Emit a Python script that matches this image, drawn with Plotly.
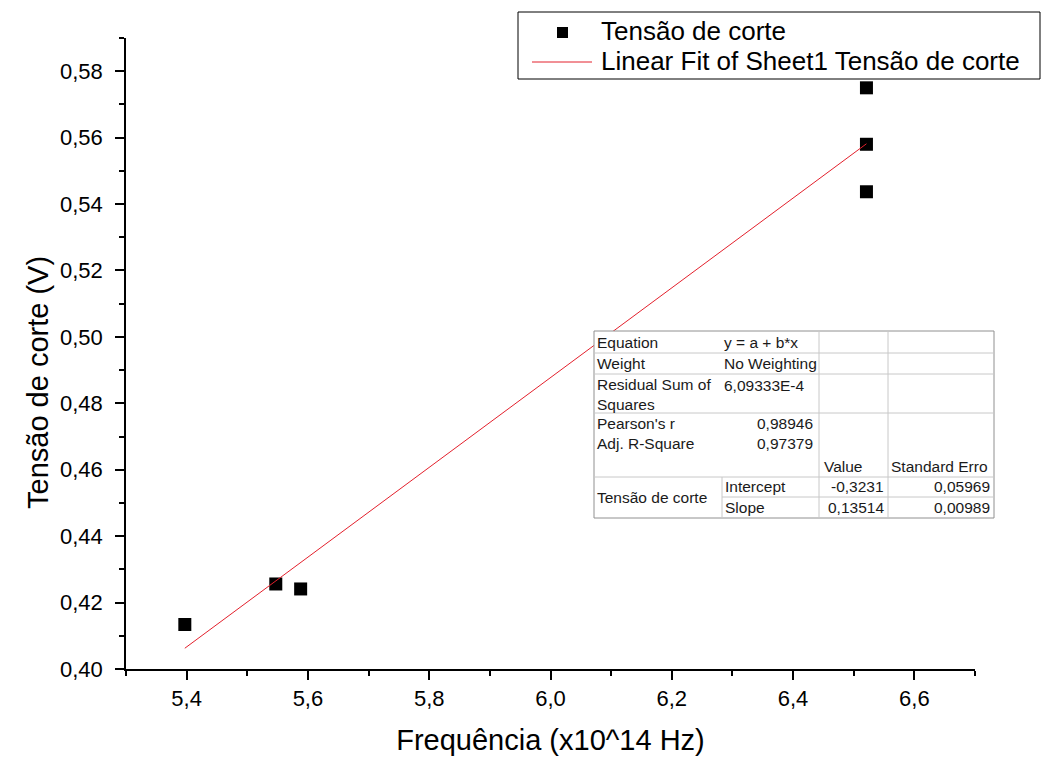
import plotly.graph_objects as go

# ---- data ----
freq = [5.397, 5.547, 5.588, 6.521, 6.521, 6.521]
tensao = [0.4134, 0.4256, 0.4241, 0.5750, 0.5580, 0.5437]
fit_intercept = -0.3231
fit_slope = 0.13514
x_ticks = [5.4, 5.6, 5.8, 6.0, 6.2, 6.4, 6.6]
y_ticks = [0.40, 0.42, 0.44, 0.46, 0.48, 0.50, 0.52, 0.54, 0.56, 0.58]

series_names = ["Tensão de corte", "Linear Fit of Sheet1 Tensão de corte"]
table_left_labels = ["Equation", "Weight", "Residual Sum of<br>Squares", "Pearson's r", "Adj. R-Square"]
table_left_values = ["y = a + b*x", "No Weighting", "6,09333E-4", "0,98946", "0,97379"]
param_names = ["Intercept", "Slope"]
param_values = ["-0,3231", "0,13514"]
param_errors = ["0,05969", "0,00989"]

# ---- layout geometry (pixels) ----
W, H = 1044, 764
L, R, T, B = 126, 975, 38, 669
FIT_COLOR = "#e3202c"


def px(x):
    return (x - L) / (R - L)


def py(y):
    return (B - y) / (B - T)


fig = go.Figure()

fig.add_trace(go.Scatter(
    x=freq, y=tensao, mode="markers", name=series_names[0],
    marker=dict(symbol="square", size=13, color="black", line=dict(width=0)),
))

x_fit = [min(freq), max(freq)]
y_fit = [fit_intercept + fit_slope * v for v in x_fit]
fig.add_trace(go.Scatter(
    x=x_fit, y=y_fit, mode="lines", name=series_names[1],
    line=dict(color=FIT_COLOR, width=1),
))

font_family = "Liberation Sans, Arial, sans-serif"

fig.update_layout(
    width=W, height=H,
    margin=dict(l=L, r=W - R, t=T, b=H - B, autoexpand=False),
    paper_bgcolor="white", plot_bgcolor="white",
    separators=", ",
    font=dict(family=font_family, color="black"),
    showlegend=False,
    xaxis=dict(
        range=[5.3, 6.7], tickvals=x_ticks, tickformat=".1f",
        showgrid=False, zeroline=False, showline=True, linecolor="black", linewidth=1.5,
        ticks="outside", ticklen=9, tickwidth=1.5, tickcolor="black",
        minor=dict(dtick=0.1, tick0=5.3, ticks="outside", ticklen=5, tickwidth=1.5, tickcolor="black", showgrid=False),
        tickfont=dict(size=22, family=font_family),
        title=dict(text="Frequência (x10^14 Hz)", font=dict(size=29, family=font_family), standoff=20),
    ),
    yaxis=dict(
        range=[0.40, 0.59], tickvals=y_ticks, tickformat=".2f",
        showgrid=False, zeroline=False, showline=True, linecolor="black", linewidth=1.5,
        ticks="outside", ticklen=9, tickwidth=1.5, tickcolor="black",
        minor=dict(dtick=0.01, tick0=0.40, ticks="outside", ticklen=5, tickwidth=1.5, tickcolor="black", showgrid=False),
        tickfont=dict(size=22, family=font_family),
        ticklabelstandoff=8,
    ),
)

# y-axis title (placed lower than axis centre, as in the reference)
fig.add_annotation(text="Tensão de corte (V)", xref="paper", yref="paper",
                   x=px(38), y=py(383), xanchor="center", yanchor="middle", textangle=-90,
                   showarrow=False, font=dict(size=29, family=font_family, color="black"))

shapes = []

# ---- legend box (drawn to match the compact Origin legend) ----
shapes.append(dict(type="rect", xref="paper", yref="paper", layer="above",
                   x0=px(518), x1=px(1040), y0=py(12), y1=py(79),
                   fillcolor="white", line=dict(color="black", width=1)))
shapes.append(dict(type="rect", xref="paper", yref="paper", layer="above",
                   x0=px(557), x1=px(568), y0=py(27), y1=py(38),
                   fillcolor="black", line=dict(width=0)))
shapes.append(dict(type="line", xref="paper", yref="paper", layer="above",
                   x0=px(532), x1=px(592), y0=py(62), y1=py(62),
                   line=dict(color=FIT_COLOR, width=1)))
for name, yy in zip(series_names, [31, 61]):
    fig.add_annotation(text=name, xref="paper", yref="paper", x=px(599), y=py(yy),
                       xanchor="left", yanchor="middle", showarrow=False,
                       font=dict(size=26, family=font_family, color="black"))

# ---- fit results table ----
grid_col = "#c8c8c8"
shapes.append(dict(type="rect", xref="paper", yref="paper", layer="above",
                   x0=px(594), x1=px(994), y0=py(331), y1=py(518),
                   fillcolor="white", line=dict(color="#909090", width=1)))
for yy in [353, 374, 413, 477]:
    shapes.append(dict(type="line", xref="paper", yref="paper", layer="above",
                       x0=px(594), x1=px(994), y0=py(yy), y1=py(yy), line=dict(color=grid_col, width=1)))
shapes.append(dict(type="line", xref="paper", yref="paper", layer="above",
                   x0=px(722), x1=px(994), y0=py(497), y1=py(497), line=dict(color=grid_col, width=1)))
for xx in [819, 888]:
    shapes.append(dict(type="line", xref="paper", yref="paper", layer="above",
                       x0=px(xx), x1=px(xx), y0=py(331), y1=py(518), line=dict(color=grid_col, width=1)))
shapes.append(dict(type="line", xref="paper", yref="paper", layer="above",
                   x0=px(722), x1=px(722), y0=py(477), y1=py(518), line=dict(color=grid_col, width=1)))
fig.update_layout(shapes=shapes)

tfont = dict(size=15.5, family=font_family, color="#1a1a1a")


def txt(s, x, y, anchor="left", yanchor="middle"):
    fig.add_annotation(text=s, xref="paper", yref="paper", x=px(x), y=py(y),
                       xanchor=anchor, yanchor=yanchor, showarrow=False, font=tfont, align="left",
                       borderpad=0)


row_y = [342, 363, 385, 423, 444]
for lab, val, yy in zip(table_left_labels, table_left_values, row_y):
    if "<br>" in lab:
        txt(lab, 596, 375, yanchor="top")
    else:
        txt(lab, 596, yy)
    if val.startswith("0,"):
        txt(val, 814, yy, anchor="right")
    else:
        txt(val, 723, yy)

txt("Value", 823, 466)
txt("Standard Erro", 890, 466)
txt("Tensão de corte", 596, 497)
for name, val, err, yy in zip(param_names, param_values, param_errors, [486, 507]):
    txt(name, 724, yy)
    txt(val, 885, yy, anchor="right")
    txt(err, 991, yy, anchor="right")

fig.write_html("out.html", config={"displayModeBar": False},
               post_script="document.body.style.margin='0';")
